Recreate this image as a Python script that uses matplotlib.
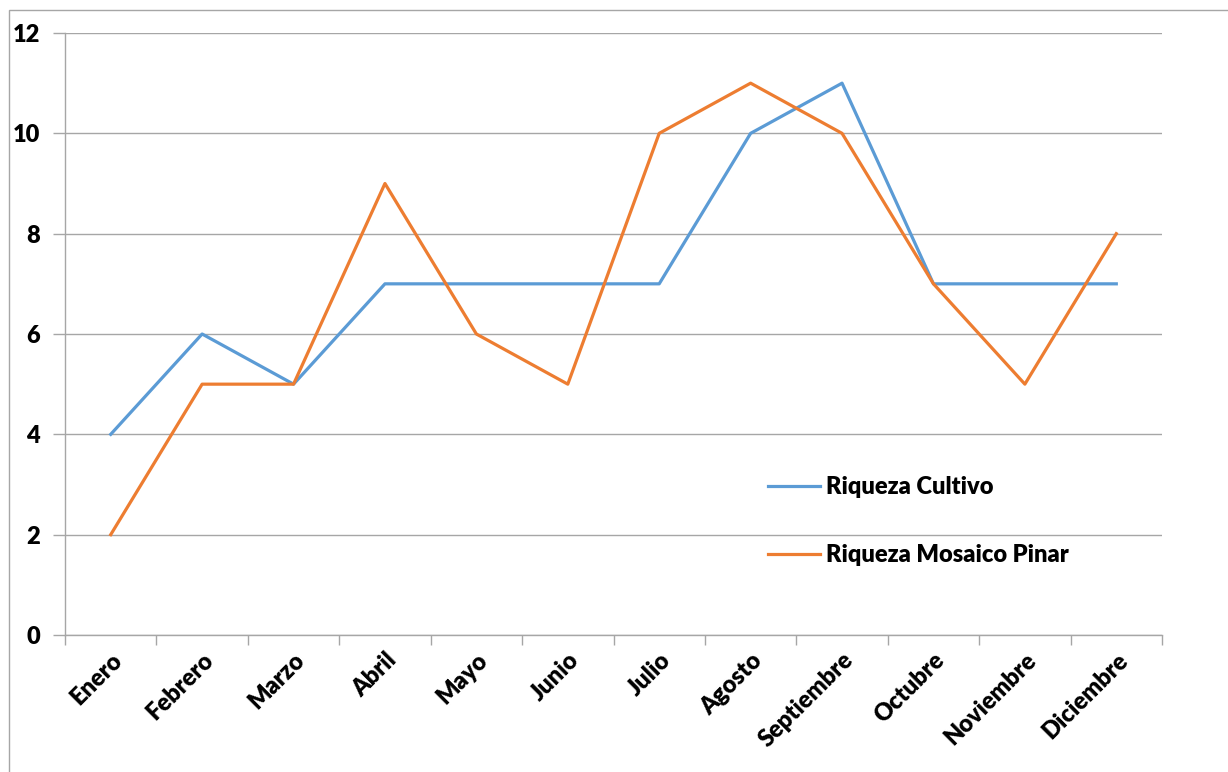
import numpy as np
import matplotlib.pyplot as plt
from matplotlib.patches import Rectangle
from matplotlib.ticker import FixedLocator

# ==== DATOS ====
meses = ['Enero', 'Febrero', 'Marzo', 'Abril', 'Mayo', 'Junio', 'Julio',
         'Agosto', 'Septiembre', 'Octubre', 'Noviembre', 'Diciembre']
riqueza_cultivo = [4, 6, 5, 7, 7, 7, 7, 10, 11, 7, 7, 7]
riqueza_mosaico = [2, 5, 5, 9, 6, 5, 10, 11, 10, 7, 5, 8]
y_ticks = [0, 2, 4, 6, 8, 10, 12]

plt.rcParams['font.family'] = ['Lato', 'DejaVu Sans']
plt.rcParams['font.weight'] = 'heavy'

gris = '#a6a6a6'
fs_txt = 17

fig = plt.figure(figsize=(12.28, 7.72), dpi=100)
ax = fig.add_axes([65/1228, 1 - 635/772, (1162 - 65)/1228, (635 - 33)/772])

x = np.arange(len(meses))
ax.plot(x, riqueza_cultivo, color='#5b9bd5', linewidth=2.3, label='Riqueza Cultivo')
ax.plot(x, riqueza_mosaico, color='#ed7d31', linewidth=2.3, label='Riqueza Mosaico Pinar')

ax.set_xlim(-0.5, len(meses) - 0.5)
ax.set_ylim(0, 12)
ax.set_yticks(y_ticks)
ax.yaxis.grid(True, color=gris, linewidth=1)
ax.set_axisbelow(True)

# etiquetas de categoria centradas, marcas entre categorias
ax.set_xticks(x)
ax.set_xticklabels(meses, rotation=45, ha='right', rotation_mode='anchor',
                   fontsize=fs_txt, fontweight='heavy')
ax.xaxis.set_minor_locator(FixedLocator(np.arange(-0.5, len(meses), 1)))
ax.tick_params(axis='x', which='major', length=0, pad=10)
ax.tick_params(axis='x', which='minor', length=7, color=gris, width=1)
ax.tick_params(axis='y', length=9, color=gris, width=1, pad=9, labelsize=fs_txt)
for lab in ax.get_yticklabels():
    lab.set_fontweight('heavy')

for lado in ['top', 'right']:
    ax.spines[lado].set_visible(False)
for lado in ['left', 'bottom']:
    ax.spines[lado].set_color(gris)
    ax.spines[lado].set_linewidth(1)

leg = ax.legend(loc='center left', bbox_to_anchor=(768/1228, 1 - 521/772),
                bbox_transform=fig.transFigure, frameon=False, fontsize=fs_txt,
                handlelength=2.2, handletextpad=0.25, labelspacing=1.95,
                borderpad=0, borderaxespad=0)
for t in leg.get_texts():
    t.set_fontweight('heavy')

# borde del grafico
fig.patches.append(Rectangle((9/1228, -0.05), 1.1, 1 - 10/772 + 0.05,
                             transform=fig.transFigure, fill=False,
                             edgecolor=gris, linewidth=1))

fig.savefig('out.png', dpi=100)
